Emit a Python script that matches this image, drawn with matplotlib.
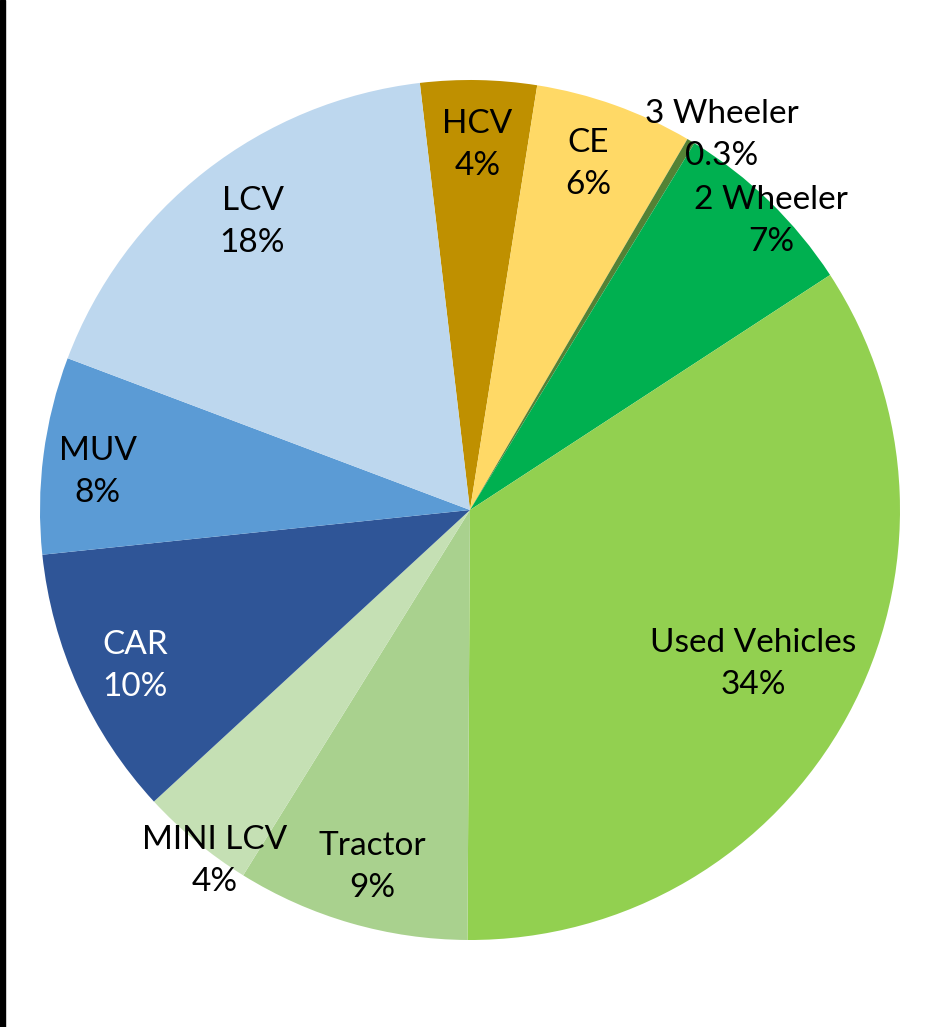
import numpy as np
import matplotlib.pyplot as plt

# Slices, clockwise from just left of 12 o'clock
categories = ["HCV", "CE", "3 Wheeler", "2 Wheeler", "Used Vehicles",
              "Tractor", "MINI LCV", "CAR", "MUV", "LCV"]
shares = [4.36, 5.94, 0.3, 7.06, 34.3, 8.75, 4.3, 10.2, 7.4, 17.4]
pct_labels = ["4%", "6%", "0.3%", "7%", "34%", "9%", "4%", "10%", "8%", "18%"]
colors = ["#BF9000", "#FFD966", "#548235", "#00B050", "#92D050",
          "#A9D18E", "#C5E0B4", "#2F5597", "#5B9BD5", "#BDD7EE"]
text_colors = ["black"] * 7 + ["white", "black", "black"]
# label radius and angle nudge (deg) per slice
label_r = [0.85, 0.85, 1.05, 0.97, 0.75, 0.86, 1.01, 0.86, 0.87, 0.84]
label_da = [0, -0.8, 3.0, 2, 0, -0.8, -3.5, -0.7, -1.5, 1]

plt.rcParams['font.family'] = ['Lato', 'DejaVu Sans']

W, H = 925, 1027
fig = plt.figure(figsize=(W / 100, H / 100), dpi=100)
cx, cy, R = 470, 517, 430
ax = fig.add_axes([(cx - R) / W, (cy - R) / H, 2 * R / W, 2 * R / H])

start = 90 + 6.7  # matplotlib angle, counter-clockwise from +x
wedges, _ = ax.pie(shares, colors=colors, startangle=start, counterclock=False,
                   radius=1, center=(0, 0), frame=False,
                   wedgeprops=dict(linewidth=0))
ax.set_xlim(-1, 1)
ax.set_ylim(-1, 1)
ax.axis("off")

for w, name, pct, tc, r, da in zip(wedges, categories, pct_labels, text_colors, label_r, label_da):
    mid = np.deg2rad((w.theta1 + w.theta2) / 2 - da)
    ax.text(r * np.cos(mid), r * np.sin(mid), f"{name}\n{pct}", ha="center", va="center",
            fontsize=24, color=tc, linespacing=1.5)

# dark strip on the left edge
fig.patches.append(plt.Rectangle((0, 0), 5 / W, 1, transform=fig.transFigure,
                                 color="black", zorder=10))

fig.savefig("out.png", dpi=100)
